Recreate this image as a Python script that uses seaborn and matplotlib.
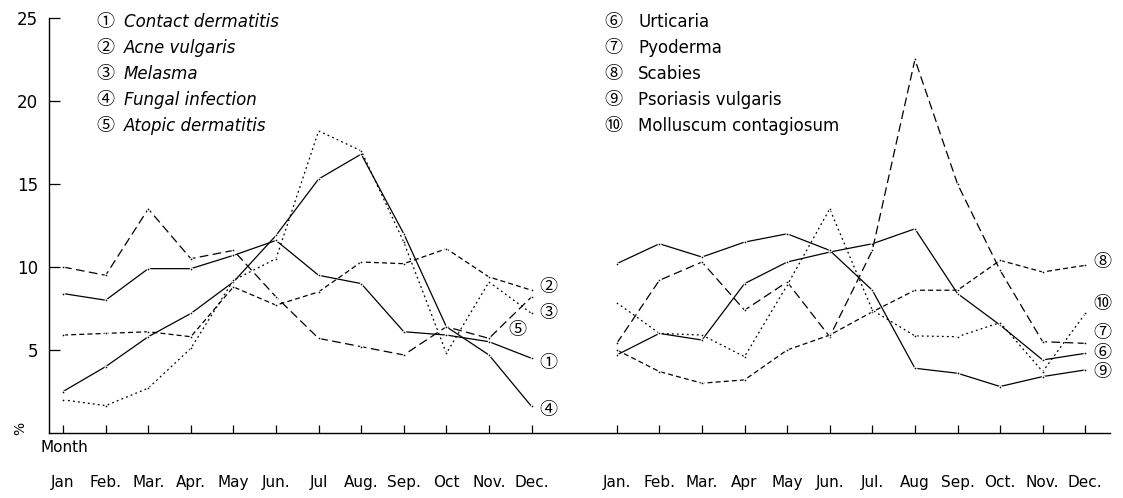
import numpy as np
import pandas as pd
import matplotlib
matplotlib.use("Agg")
import matplotlib.pyplot as plt
import seaborn as sns

# monthly share (%)
months_left = ["Jan", "Feb.", "Mar.", "Apr.", "May", "Jun.", "Jul", "Aug.", "Sep.", "Oct", "Nov.", "Dec."]
months_right = ["Jan.", "Feb.", "Mar.", "Apr", "May", "Jun.", "Jul.", "Aug", "Sep.", "Oct.", "Nov.", "Dec."]

contact = [8.4, 8.0, 9.9, 9.9, 10.7, 11.6, 9.5, 9.0, 6.1, 5.9, 5.5, 4.5]
acne = [5.9, 6.0, 6.1, 5.8, 8.8, 7.7, 8.5, 10.3, 10.2, 11.1, 9.4, 8.6]
melasma = [2.0, 1.65, 2.7, 5.1, 9.2, 10.5, 18.2, 17.0, 11.5, 4.8, 9.1, 7.2]
fungal = [2.5, 4.0, 5.8, 7.2, 9.1, 11.9, 15.3, 16.8, 12.0, 6.4, 4.7, 1.6]
atopic = [10.0, 9.5, 13.5, 10.5, 11.0, 8.2, 5.7, 5.2, 4.7, 6.4, 5.7, 8.2]

urticaria = [4.7, 6.0, 5.6, 9.0, 10.3, 10.9, 11.4, 12.3, 8.4, 6.5, 4.4, 4.8]
pyoderma = [5.4, 9.2, 10.3, 7.4, 9.1, 5.8, 11.0, 22.5, 15.0, 9.8, 5.5, 5.4]
scabies = [5.0, 3.7, 3.0, 3.2, 5.0, 5.9, 7.3, 8.6, 8.6, 10.4, 9.7, 10.1]
psoriasis = [10.2, 11.4, 10.6, 11.5, 12.0, 11.0, 8.6, 3.9, 3.6, 2.8, 3.4, 3.8]
molluscum = [7.85, 6.0, 5.9, 4.6, 8.9, 13.5, 7.4, 5.85, 5.8, 6.65, 3.7, 7.2]

left_names = ["Contact dermatitis", "Acne vulgaris", "Melasma", "Fungal infection", "Atopic dermatitis"]
right_names = ["Urticaria", "Pyoderma", "Scabies", "Psoriasis vulgaris", "Molluscum contagiosum"]
circled = ["\u2460", "\u2461", "\u2462", "\u2463", "\u2464",
           "\u2465", "\u2466", "\u2467", "\u2468", "\u2469"]

pos_left = np.arange(12)
pos_right = np.arange(12) + 13.0

rows = []
for name, vals in zip(left_names, [contact, acne, melasma, fungal, atopic]):
    for p, v in zip(pos_left, vals):
        rows.append((name, p, v))
for name, vals in zip(right_names, [urticaria, pyoderma, scabies, psoriasis, molluscum]):
    for p, v in zip(pos_right, vals):
        rows.append((name, p, v))
df = pd.DataFrame(rows, columns=["disease", "pos", "pct"])

dashes = {
    "Contact dermatitis": "", "Fungal infection": "",
    "Acne vulgaris": (4, 2.5), "Melasma": (1.5, 2.5), "Atopic dermatitis": (7, 3.5),
    "Urticaria": "", "Psoriasis vulgaris": "",
    "Pyoderma": (7, 3.5), "Scabies": (4, 2.5), "Molluscum contagiosum": (1.5, 2.5),
}

sns.set_style("white")
plt.rcParams["font.family"] = ["DejaVu Sans", "Noto Sans CJK JP"]
plt.rcParams["text.color"] = "black"
plt.rcParams["xtick.color"] = "black"
plt.rcParams["ytick.color"] = "black"

W, H = 1123, 498
fig = plt.figure(figsize=(W / 100, H / 100), dpi=100)
ax = fig.add_axes([49 / W, 1 - 433 / H, 1061 / W, 415 / H])

for name in dashes:
    sub = df[df.disease == name]
    sns.lineplot(data=sub, x="pos", y="pct", ax=ax, color="black", linewidth=0.9,
                 dashes=[dashes[name]] if dashes[name] != "" else False,
                 style="disease" if dashes[name] != "" else None,
                 marker=".", markersize=4, legend=False)

ax.set_xlim(-0.33, 24.58)
ax.set_ylim(0, 25)
ax.set_xticks(list(pos_left) + list(pos_right))
ax.set_xticklabels(months_left + months_right)
ax.set_yticks([5, 10, 15, 20, 25])
ax.set_yticklabels(["5", "10", "15", "20", "25"])
ax.tick_params(axis="x", bottom=True, direction="in", length=6, width=0.9, pad=30,
               labelsize=11, colors="black")
ax.tick_params(axis="y", left=True, direction="in", length=8, width=0.9, pad=8,
               labelsize=12, colors="black")
ax.set_xlabel("")
ax.set_ylabel("")
for s in ["top", "right"]:
    ax.spines[s].set_visible(False)
for s in ["left", "bottom"]:
    ax.spines[s].set_color("black")
    ax.spines[s].set_linewidth(1.0)

def fpos(x, y):
    return x / W, 1 - y / H

circ_font = ["Noto Sans CJK JP", "DejaVu Sans"]

rows_y = [22, 48, 74, 100, 126]
for i, name in enumerate(left_names):
    fig.text(*fpos(105, rows_y[i]), circled[i], fontsize=13, family=circ_font,
             ha="center", va="center")
    fig.text(*fpos(124, rows_y[i]), name, fontsize=12, style="italic", ha="left", va="center")
for i, name in enumerate(right_names):
    fig.text(*fpos(613, rows_y[i]), circled[i + 5], fontsize=13, family=circ_font,
             ha="center", va="center")
    fig.text(*fpos(638, rows_y[i]), name, fontsize=12, ha="left", va="center")

# labels at line ends
end_left = [(11.4, 4.2, 0), (11.4, 8.8, 1), (11.4, 7.2, 2), (11.4, 1.4, 3), (10.66, 6.2, 4)]
for x, y, i in end_left:
    ax.text(x, y, circled[i], fontsize=13, family=circ_font, ha="center", va="center")
end_right = [(24.41, 4.8, 5), (24.41, 6.0, 6), (24.41, 10.3, 7), (24.41, 3.7, 8), (24.41, 7.8, 9)]
for x, y, i in end_right:
    ax.text(x, y, circled[i], fontsize=13, family=circ_font, ha="center", va="center")

fig.text(*fpos(40, 447), "Month", fontsize=11, ha="left", va="center")
fig.text(*fpos(20, 428), "%", fontsize=10, ha="center", va="center", rotation=90)

fig.savefig("out.png", dpi=100)
